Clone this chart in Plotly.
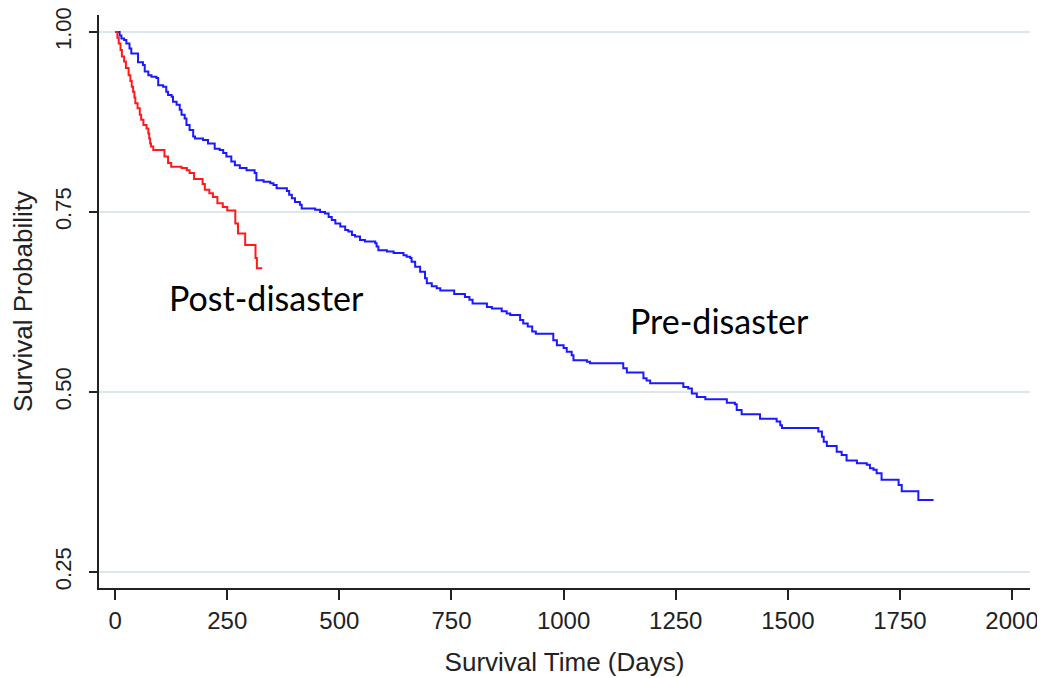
import plotly.graph_objects as go

# Pre-disaster Kaplan-Meier estimate (blue)
pre_days = [0, 10, 14, 20, 25, 32, 36, 51, 62, 66, 74, 81, 92, 96, 107, 114, 118, 126, 129, 137,
            144, 148, 155, 159, 166, 174, 178, 196, 207, 222, 233, 241, 248, 259, 267, 278, 293,
            311, 315, 331, 346, 353, 360, 383, 388, 394, 401, 412, 416, 446, 457, 468, 476, 483,
            491, 502, 513, 520, 528, 535, 546, 557, 580, 583, 587, 606, 621, 643, 650, 658, 661,
            669, 680, 691, 695, 706, 717, 725, 756, 780, 790, 797, 829, 840, 862, 873, 881, 903,
            910, 920, 930, 938, 977, 985, 1000, 1007, 1018, 1022, 1052, 1059, 1133, 1141, 1178,
            1185, 1193, 1267, 1278, 1286, 1297, 1316, 1364, 1382, 1386, 1397, 1438, 1475, 1483,
            1487, 1568, 1576, 1580, 1587, 1609, 1620, 1631, 1654, 1676, 1683, 1691, 1698, 1709,
            1747, 1754, 1791, 1825]
pre_surv = [1.0, 0.995, 0.991, 0.989, 0.984, 0.977, 0.970, 0.958, 0.954, 0.945, 0.940, 0.938,
            0.936, 0.926, 0.924, 0.917, 0.9125, 0.910, 0.903, 0.899, 0.892, 0.885, 0.880, 0.871,
            0.864, 0.855, 0.852, 0.850, 0.845, 0.838, 0.836, 0.832, 0.827, 0.820, 0.815, 0.811,
            0.808, 0.804, 0.794, 0.792, 0.790, 0.7875, 0.783, 0.779, 0.774, 0.769, 0.764, 0.760,
            0.755, 0.753, 0.750, 0.748, 0.743, 0.739, 0.734, 0.730, 0.725, 0.723, 0.718, 0.716,
            0.711, 0.709, 0.7065, 0.702, 0.697, 0.695, 0.693, 0.690, 0.688, 0.686, 0.681, 0.674,
            0.667, 0.658, 0.651, 0.647, 0.644, 0.641, 0.636, 0.632, 0.628, 0.623, 0.618, 0.616,
            0.612, 0.609, 0.607, 0.600, 0.595, 0.591, 0.584, 0.581, 0.572, 0.565, 0.561, 0.556,
            0.551, 0.544, 0.542, 0.540, 0.533, 0.527, 0.519, 0.516, 0.512, 0.507, 0.505, 0.498,
            0.493, 0.490, 0.485, 0.483, 0.475, 0.469, 0.463, 0.459, 0.454, 0.450, 0.445, 0.438,
            0.431, 0.425, 0.417, 0.4125, 0.405, 0.401, 0.399, 0.394, 0.392, 0.387, 0.378, 0.371,
            0.362, 0.350, 0.350]

# Post-disaster Kaplan-Meier estimate (red)
post_days = [0, 5, 8, 12, 15, 20, 24, 30, 34, 37, 40, 43, 45, 50, 55, 58, 63, 70, 74, 76, 78,
             80, 85, 110, 118, 125, 148, 160, 166, 176, 195, 200, 210, 218, 228, 240, 250, 268,
             274, 290, 313, 316, 328]
post_surv = [1.0, 0.992, 0.984, 0.975, 0.966, 0.959, 0.950, 0.940, 0.932, 0.924, 0.917, 0.909,
             0.901, 0.894, 0.885, 0.878, 0.871, 0.866, 0.859, 0.852, 0.845, 0.841, 0.836, 0.827,
             0.818, 0.813, 0.811, 0.808, 0.804, 0.796, 0.789, 0.781, 0.776, 0.771, 0.762, 0.757,
             0.752, 0.734, 0.720, 0.704, 0.686, 0.672, 0.672]

x_ticks = [0, 250, 500, 750, 1000, 1250, 1500, 1750, 2000]
y_ticks = [0.25, 0.50, 0.75, 1.00]
y_tick_text = ["0.25", "0.50", "0.75", "1.00"]

labels = ["Post-disaster", "Pre-disaster"]
label_x = [337, 1347]
label_y = [0.631, 0.600]

fig = go.Figure()
fig.add_trace(go.Scatter(x=pre_days, y=pre_surv, mode="lines", line=dict(shape="hv", color="#1a1aff", width=2),
                         showlegend=False))
fig.add_trace(go.Scatter(x=post_days, y=post_surv, mode="lines", line=dict(shape="hv", color="#ff1a1a", width=2),
                         showlegend=False))

for t, x, y in zip(labels, label_x, label_y):
    fig.add_annotation(x=x, y=y, text=t, showarrow=False,
                       font=dict(family="Lato", size=34, color="black"))

axis_font = "Liberation Sans, Arial, sans-serif"
fig.update_layout(
    width=1045, height=678,
    margin=dict(l=91, r=23, t=7, b=98, autoexpand=False),
    paper_bgcolor="white", plot_bgcolor="white",
    font=dict(family=axis_font, color="#222"),
    xaxis=dict(range=[-36, 2040], tickvals=x_ticks, showgrid=False, zeroline=False, automargin=False,
               showline=True, linecolor="#222", linewidth=2, ticklabeloverflow="allow",
               ticks="outside", ticklen=10, tickwidth=1.5, tickcolor="#222",
               tickfont=dict(size=24, family=axis_font),
               title=dict(text="Survival Time (Days)", font=dict(size=26, family=axis_font), standoff=20)),
    yaxis=dict(range=[0.2278, 1.0236], tickvals=y_ticks, ticktext=y_tick_text, tickangle=-90,
               showgrid=True, gridcolor="#dde8ec", gridwidth=1.5, zeroline=False, automargin=False,
               showline=True, linecolor="#222", linewidth=2, ticklabeloverflow="allow",
               ticks="outside", ticklen=8, tickwidth=1.5, tickcolor="#222", ticklabelstandoff=9,
               tickfont=dict(size=22, family=axis_font),
               title=dict(text="Survival Probability", font=dict(size=26, family=axis_font), standoff=12)),
)

fig.write_html("out.html")
